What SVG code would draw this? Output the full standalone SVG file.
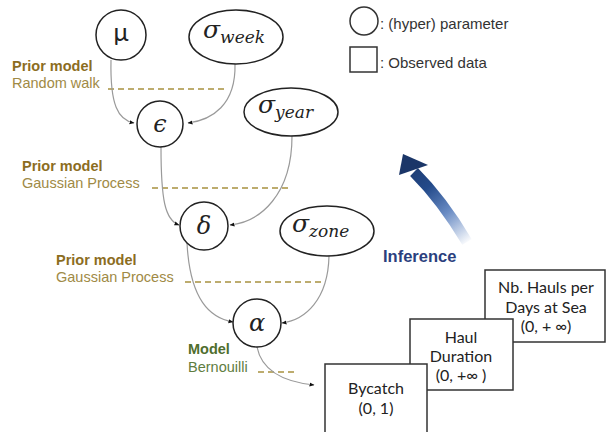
<svg xmlns="http://www.w3.org/2000/svg" width="607" height="432" viewBox="0 0 607 432">
<style>
.node{fill:#fff;stroke:#222;stroke-width:1.5}
.math{font-family:"DejaVu Serif","Liberation Serif",serif;font-style:italic;fill:#222}
.conn{fill:none;stroke:#9a9a9a;stroke-width:1.2}
.dash{stroke:#a8913f;stroke-width:1.5;stroke-dasharray:6 4}
.ph{font-family:"Liberation Sans",Arial,sans-serif;font-size:14.5px;font-weight:bold;fill:#8c6d1f}
.ps{font-family:"Liberation Sans",Arial,sans-serif;font-size:14.5px;fill:#a08a45}
.mh{font-family:"Liberation Sans",Arial,sans-serif;font-size:14.5px;font-weight:bold;fill:#4f6e2e}
.ms{font-family:"Liberation Sans",Arial,sans-serif;font-size:14.5px;fill:#5f7d3f}
.box{fill:#fff;stroke:#333;stroke-width:1.5}
.bt{font-family:Lato,"Liberation Sans",sans-serif;font-size:16px;fill:#222;text-anchor:middle}
.leg{font-family:"Liberation Sans",Arial,sans-serif;font-size:15px;fill:#333}
</style>
<defs>
<marker id="ah" viewBox="0 0 10 10" refX="9" refY="5" markerWidth="5" markerHeight="5" orient="auto" markerUnits="userSpaceOnUse">
<path d="M0,1 L10,5 L0,9 z" fill="#111"/>
</marker>
<linearGradient id="inf" gradientUnits="userSpaceOnUse" x1="470" y1="242" x2="405" y2="158">
<stop offset="0" stop-color="#ffffff"/>
<stop offset="0.35" stop-color="#6a8cc4"/>
<stop offset="0.65" stop-color="#234a8a"/>
<stop offset="1" stop-color="#1b3668"/>
</linearGradient>
</defs>

<g id="labels">
<text class="ph" x="12" y="71">Prior model</text>
<text class="ps" x="12" y="88">Random walk</text>
<line class="dash" x1="108" y1="89" x2="228" y2="89"/>
<text class="ph" x="22" y="171">Prior model</text>
<text class="ps" x="22" y="188">Gaussian Process</text>
<line class="dash" x1="152" y1="188" x2="292" y2="188"/>
<text class="ph" x="56" y="265">Prior model</text>
<text class="ps" x="56" y="282">Gaussian Process</text>
<line class="dash" x1="185" y1="282" x2="325" y2="282"/>
<text class="mh" x="188" y="354">Model</text>
<text class="ms" x="188" y="372">Bernouilli</text>
<line class="dash" x1="258" y1="372" x2="297" y2="372"/>
</g>

<g id="connectors">
<path class="conn" d="M111,60 C110,105 118,120 134,123" marker-end="url(#ah)"/>
<path class="conn" d="M235,64 C236,105 212,120 188,123" marker-end="url(#ah)"/>
<path class="conn" d="M161,147 C161,200 165,220 179,225" marker-end="url(#ah)"/>
<path class="conn" d="M292,136 C292,195 260,222 230,225" marker-end="url(#ah)"/>
<path class="conn" d="M187,243 C190,300 210,318 233,322" marker-end="url(#ah)"/>
<path class="conn" d="M329,256 C328,300 305,320 282,323" marker-end="url(#ah)"/>
<path class="conn" d="M257,347 C262,372 285,382 314,385" marker-end="url(#ah)"/>
</g>

<g id="node-mu">
<circle class="node" cx="121" cy="35" r="25"/>
<text x="121" y="41" font-family="Lato,'Liberation Sans',sans-serif" font-size="25" fill="#222" text-anchor="middle">μ</text>
</g>
<g id="node-sigma-week">
<ellipse class="node" cx="236" cy="37" rx="47" ry="27"/>
<text class="math" x="203" y="38" font-size="25">σ<tspan font-size="17" dy="5">week</tspan></text>
</g>
<g id="node-epsilon">
<circle class="node" cx="160" cy="124" r="23"/>
<text class="math" x="160" y="132" font-size="24" text-anchor="middle">ϵ</text>
</g>
<g id="node-sigma-year">
<ellipse class="node" cx="291" cy="112" rx="47" ry="24"/>
<text class="math" x="258" y="113" font-size="25">σ<tspan font-size="17" dy="5">year</tspan></text>
</g>
<g id="node-delta">
<circle class="node" cx="204" cy="226" r="24"/>
<text class="math" x="204" y="234" font-size="24" text-anchor="middle">δ</text>
</g>
<g id="node-sigma-zone">
<ellipse class="node" cx="327" cy="231" rx="47" ry="25"/>
<text class="math" x="292" y="232" font-size="25">σ<tspan font-size="17" dy="5">zone</tspan></text>
</g>
<g id="node-alpha">
<circle class="node" cx="257" cy="323" r="24"/>
<text class="math" x="257" y="331" font-size="24" text-anchor="middle">α</text>
</g>

<g id="legend">
<circle cx="364" cy="21" r="14" fill="#fff" stroke="#333" stroke-width="1.5"/>
<text class="leg" x="380" y="29">: (hyper) parameter</text>
<rect x="350" y="47" width="27" height="25" fill="#fff" stroke="#333" stroke-width="1.5"/>
<text class="leg" x="380" y="68">: Observed data</text>
</g>

<g id="inference">
<path d="M467,242 Q442,200 414,172" fill="none" stroke="url(#inf)" stroke-width="11"/>
<polygon points="403,154 428,165 399,175" fill="#1b3668"/>
<text x="383" y="262" font-family="'Liberation Sans',Arial,sans-serif" font-size="16.5" font-weight="bold" fill="#2b3f7e">Inference</text>
</g>

<g id="node-nb-hauls">
<rect class="box" x="485" y="270" width="120" height="72"/>
<text class="bt" x="546" y="293">Nb. Hauls per</text>
<text class="bt" x="546" y="313">Days at Sea</text>
<text class="bt" x="546" y="332">(0, + ∞)</text>
</g>
<g id="node-haul-duration">
<rect class="box" x="410" y="319" width="103" height="71"/>
<text class="bt" x="461" y="343">Haul</text>
<text class="bt" x="461" y="362">Duration</text>
<text class="bt" x="461" y="381">(0, +∞ )</text>
</g>
<g id="node-bycatch">
<rect class="box" x="325" y="364" width="102" height="80"/>
<text class="bt" x="376" y="394">Bycatch</text>
<text class="bt" x="376" y="414">(0, 1)</text>
</g>
</svg>
